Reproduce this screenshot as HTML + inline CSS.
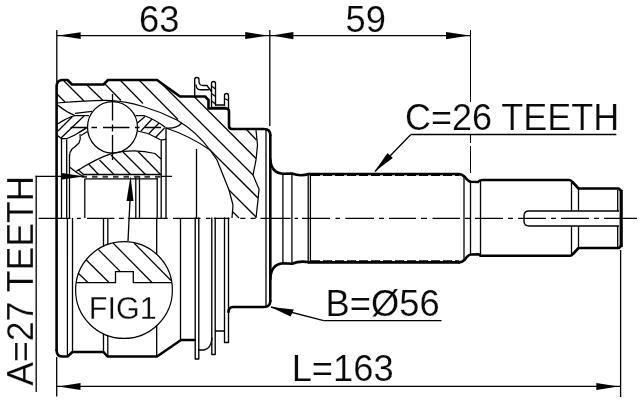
<!DOCTYPE html>
<html><head><meta charset="utf-8"><style>
html,body{margin:0;padding:0;background:#fff;overflow:hidden}
svg{display:block;will-change:transform;opacity:.999}
text{font-family:"Liberation Sans",sans-serif;fill:#0a0a0a}
.k{fill:none;stroke:#000;stroke-width:2.6;stroke-linejoin:round;stroke-linecap:round}
.m{fill:none;stroke:#000;stroke-width:1.35;stroke-linejoin:round;stroke-linecap:round}
.t{fill:none;stroke:#000;stroke-width:1.3;stroke-linecap:butt}
.h{fill:none;stroke:#000;stroke-width:1.25}
.a{fill:#000;stroke:none}
</style></head><body>
<svg width="640" height="400" viewBox="0 0 640 400">
<rect width="640" height="400" fill="#fff"/>

<!-- TEXT -->
<g font-size="36.3" stroke="#fff" stroke-width="0.2">
<text x="139" y="31.8">63</text>
<text x="345.5" y="31.8">59</text>
<text transform="translate(405,130.2) scale(0.9915,1)">C=26 TEETH</text>
<text x="325.6" y="316.2">B=Ø56</text>
<text x="291.7" y="380.6">L=163</text>
<text transform="translate(32.5,385.7) rotate(-90) scale(0.981,1)">A=27 TEETH</text>
</g>

<!-- DIMENSIONS -->
<g class="t">
<path d="M56.8,30V82"/>
<path d="M269.8,30V126"/>
<path d="M470.5,30V102M470.5,135V143M470.5,146V173" stroke-width="1"/>
<path d="M57,35.6H470"/>
<path d="M56.7,357V396.5"/>
<path d="M620.6,250V397"/>
<path d="M57,386.4H620.6"/>
<path d="M36.2,175.8V392"/>
<path d="M35.6,176.4H84M161,176.4H172"/>
<path d="M410.6,134.5H616.3"/>
<path d="M410.6,134.7L375,171.5"/>
<path d="M323.7,320.6H441.5"/>
<path d="M323.7,320.6L271,307"/>
<path d="M130,200L128,241"/>
<path d="M38.6,218.3H70.6M76.9,218.3H80.8M87,218.3H114.4M119,218.3H123.8M127.8,218.3H167.7M173,218.3H200.5M206,218.3H210.6M213.8,218.3H229.5M240.3,218.3H245.4M250.5,218.3H255.6M260.5,218.3H290.5M294.5,218.3H298M302,218.3H330M335.5,218.3H340M345.3,218.3H374M379,218.3H384M389,218.3H416M421,218.3H427M432.5,218.3H460M465,218.3H470M475,218.3H503M508,218.3H513M518,218.3H546M551,218.3H556M561,218.3H589M594,218.3H599M604,218.3H637"/>
</g>
<g class="a">
<path d="M58.5,35.6L80.7,32.2V39Z"/>
<path d="M268,35.6L245.2,32V39Z"/>
<path d="M271.7,35.6L293.4,32V39.3Z"/>
<path d="M469.3,35.6L446,32.1V39.3Z"/>
<path d="M58.5,386.4L80.5,383V390Z"/>
<path d="M618.4,386.4L596.3,382.9V390Z"/>
<path d="M374.4,171.8L387.5,153L392.8,158Z"/>
<path d="M270.6,306.9L293.8,309.4L290.6,316.5Z"/>
<path d="M84,176.5L62,173V179.5Z"/>
<path d="M130.5,176L126.5,201H133.5Z"/>
</g>

<!-- SHAFT -->
<g class="t">
<path d="M266,130V306"/>
<path d="M282.9,174V263"/><path d="M291.9,174V263.5"/><path d="M308.2,174V262"/><path d="M310.4,174V262"/>
<path d="M464,177V259"/><path d="M470.5,182V254"/><path d="M480.5,180V256"/>
<path d="M571.5,181V211"/><path d="M578.5,189V211"/><path d="M571.5,226V255"/><path d="M578.5,226V248"/>
<path d="M617.7,190V211"/><path d="M617.7,226V247"/>
<path d="M619,211H529Q524,211 524,216V221Q524,226 529,226H619" stroke-width="1.4"/>
</g>
<path class="k" d="M270.3,135V301" stroke-width="2.3"/>
<path class="k" stroke-width="2.1" d="M270.3,159Q271,173.5 284,173.8L292,173.5Q300,176.6 309,174"/>
<path class="k" stroke-width="2.3" d="M309,174H458"/>
<path class="k" stroke-width="2.4" d="M458,174Q462,174 465,177Q468,181.5 471,181.8L478,182Q479.5,180 482,180H569Q571,180 572.5,182L578.5,188.5H618.5L621,190.5"/>
<path class="k" stroke-width="2.1" d="M270.3,279Q271,264 283,263.2L292,263.7Q300,260.5 309,262.3"/>
<path class="k" stroke-width="2.5" d="M309,262.4H459"/>
<path class="k" stroke-width="2.4" d="M459,262.4Q462,262.4 465,259.5Q468,254.8 471,254.5L479,254.3L480.5,255.8H570Q571.5,255.8 573,254L578.5,248H619L621,246"/>
<path d="M621.2,190V247" fill="none" stroke="#000" stroke-width="3.2"/>

<path class="t" d="M311,175.4H459" stroke-width="0.9" stroke-dasharray="9 3"/><path class="t" d="M311,260.9H459" stroke-width="0.9" stroke-dasharray="9 3"/>
<!-- HOUSING OUTLINE -->
<path class="k" d="M56.6,350V87Q56.6,80.3 62,80H67.5L72,84.5H103.5L108,80H157L180,96.5H205L208.5,100V108.5H226Q229,108.5 229,111.5V126Q229,129 232,129H264Q270.3,129 270.3,135"/>
<path class="k" d="M56.6,350Q56.6,356.5 62,356.5H67.5L72.5,352H103.5L107.5,356.5H157L181,340H195"/>
<path class="k" d="M228.5,312Q228.5,307 233,307H264Q270.3,307 270.3,301"/>

<!-- ABS ring posts upper -->
<g class="m">
<path d="M194.7,96V79.5Q194.7,77.5 196.8,77.5Q199,77.5 199,79.5V82Q199.5,85.5 203,85.5H207L211,91"/><path d="M196,85Q196.5,89.7 200,89.7H208.5"/>
<path d="M211.5,107V83.5Q211.5,81.5 213.5,81.5Q215.5,81.5 215.5,83.5V105"/>
<path d="M224.5,105V95.5Q224.5,93.5 226.5,93.5Q228.5,93.5 228.5,95.5V108"/>
<path d="M215.5,105H224.5"/><path d="M212,107.3H226"/>

</g>
<g class="t"><path d="M211.5,86L215.5,89"/><path d="M211.5,93.5L215.5,96.5"/><path d="M211.5,101L215.5,104"/><path d="M224.5,98.5L228.5,100.5"/></g>
<!-- lower posts -->
<g class="m">
<path d="M195.2,218V359H198.8V218"/>
<path d="M211.8,218V354.5H215.2V218"/>
<path d="M224.5,218V342.5H228.5V218"/>
<path d="M215.5,331H224.5"/>
<path d="M199,350H204Q211,349 212,338"/>
</g>

<!-- lower half verticals -->
<g class="t">
<path d="M67.4,218V356"/><path d="M72.5,218V352"/>
<path d="M103.5,218V352"/><path d="M107.8,218V356"/>
<path d="M156.7,218V356"/><path d="M180.5,218V340"/>
</g>

<!-- upper half inner verticals -->
<g class="t">
<path d="M61.5,138V218"/><path d="M66.7,139.5V218"/>
<path d="M69.5,154V218"/>
<path d="M84.8,179V218"/>
<path d="M135.8,176V218"/><path d="M139.5,176V218"/>
<path d="M157.2,178V218"/>
<path d="M161.2,140V218"/>
<path d="M196.5,149V218"/>
</g>
<path class="m" d="M166,128V218"/>

<!-- spline lines -->
<g class="t">
<path d="M83,174.5H161" stroke-width="1.6"/>
<path d="M84.5,178.8H158" stroke-width="1.3"/>
<path d="M81.5,176.7H161" stroke-width="1.9" stroke="#333" stroke-dasharray="5.5 5"/>
</g>

<!-- ball -->
<ellipse cx="112.5" cy="127.3" rx="25" ry="25.7" class="h" fill="#fff"/>
<g class="t">
<path d="M112.5,94V120.5M112.5,124.5V131.5M112.5,135V160"/>
<path d="M70.5,127.5H87M91.5,127.5H97M103,127.5H129.5M135,127.5H139.5M145,127.5H161"/>
</g>

<!-- outer race inner surface + hatch -->
<g class="h">
<path d="M57,103C75,101.5 95,100 112,100.6C130,101.5 155,109 177,120Q197,132 210,150L217,160L229,190L233,205L232,218"/>
<path d="M256,130L257.5,145L256,160L253,175L259,189L258,200L256,218"/>
<path d="M57,94L65,102"/>
<path d="M64,81L84,101"/>
<path d="M87,85L103,100.5"/>
<path d="M105,84L121,100.5"/>
<path d="M120,80L143,103.5"/>
<path d="M139,80L178,119.5"/>
<path d="M210,150L258,198"/>
<path d="M161,83L253,175"/>
<path d="M194,96.5L256,158.5"/>
<path d="M246,129L256.5,140"/>
<path d="M229,190L256,217"/>
<path d="M233,212L239,218"/>
<!-- cage outer line & other curves -->
<path d="M57.5,105Q66,112 75,115.5H89"/>
<path d="M75,113.3L92,111.3"/>
<path d="M135.5,115.5H144Q156,120 165.5,127.5"/>
<path d="M166,128Q176,129 182,123"/>
<path d="M166,128Q190,136 210,150"/>
<!-- cage left -->
<path d="M57.5,124Q66,118 75,115.5"/>
<path d="M57.5,135.5L61.5,138.5H67Q74,136 79,132.5L86,128"/>
<path d="M58,131L72,117"/><path d="M61,138L84,116"/>
<path d="M79,132.5L86.5,128"/><path d="M81,135.5L87.5,131.5"/>
<path d="M80,134Q81,139 79,143Q75,147 72,149Q69.5,152 69.5,156"/>
<path d="M69.5,167L76,172L84,177"/>
<!-- cage right -->
<path d="M137.5,131L148,133.5L160,139.5Q163,140.5 166,139"/>
<path d="M137.5,123L145,116.5"/><path d="M141,131L152,119"/><path d="M149,133.5L159,123"/><path d="M155.5,137.5L164.5,128"/>
<!-- inner race -->
<path d="M76,171.5Q95,159 112,153.3Q135,148.5 155,153.5L161,159"/>
<path d="M78,169.5L84,175"/>
<path d="M88.5,164L98.5,174.5"/>
<path d="M99.5,160L114,174.5"/>
<path d="M111,155L130.5,174.5"/>
<path d="M123,152L145.5,174.5"/>
<path d="M138,151.5L160.5,174.5"/>
</g>

<!-- FIG1 circle -->
<circle cx="124" cy="290" r="48.4" fill="#fff" stroke="#000" stroke-width="1.2"/>
<g class="h">
<path d="M76,282.6H115.5V271.6H133.3V282.6H172" stroke-width="1.3"/>
<path d="M78,273L88,282.5"/>
<path d="M86.3,260L109,282.5"/>
<path d="M98.4,249.6L120.4,271.6"/>
<path d="M113,243L152,282.5"/>
<path d="M134,243L171,280.5"/>
</g>
<text transform="translate(88.8,318.5) scale(0.975,1.02)" font-size="31.3" stroke="#fff" stroke-width="0.3">FIG1</text>
</svg>
</body></html>
